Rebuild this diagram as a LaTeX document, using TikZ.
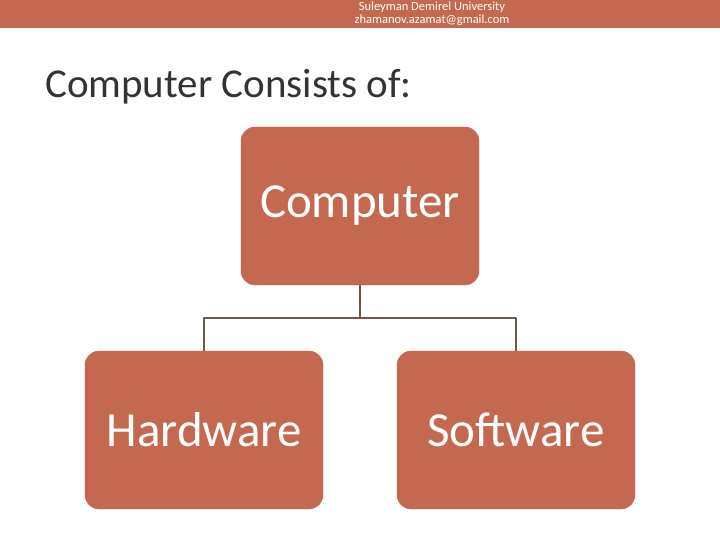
\documentclass[tikz,border=0pt]{standalone}
\usepackage{fontspec}
\setmainfont{Carlito}
\usetikzlibrary{positioning}
\definecolor{copper}{HTML}{C4694F}
\definecolor{linkbrown}{HTML}{74564A}
\tikzset{
  box/.style={fill=copper, draw=copper, rounded corners=14pt, minimum width=238pt, minimum height=158pt, text=white, font=\fontsize{49}{54}\selectfont, inner sep=0pt},
  link/.style={draw=linkbrown, line width=1.8pt}
}
\begin{document}
\begin{tikzpicture}[x=1pt,y=-1pt, line join=round]
\useasboundingbox (0,0) rectangle (720,540);
% top band
\fill[copper] (0,0) rectangle (720,28);
\node[text=white, font=\fontsize{12.5}{13}\selectfont, align=center, inner sep=0pt] (head) at (432,14) {Suleyman Demirel University\\zhamanov.azamat@gmail.com};
\node[anchor=base west, text=black!80, font=\fontsize{41}{45}\selectfont, inner sep=0pt] (title) at (45,98) {Computer Consists of:};
% tree
\node[box] (comp) at (360,206) {Computer};
\node[box] (hard) at (204,430) {Hardware};
\node[box] (soft) at (516,430) {Software};
\coordinate (split) at (360,318);
\draw[link] (comp.south) -- (split);
\draw[link] (split) -| (hard.north);
\draw[link] (split) -| (soft.north);
\end{tikzpicture}
\end{document}
